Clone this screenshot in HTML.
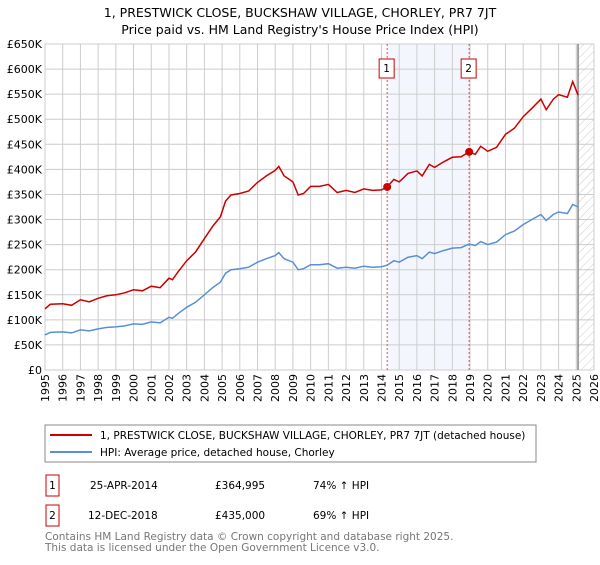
<!DOCTYPE html>
<html><head><meta charset="utf-8"><style>
body{margin:0;background:#fff;font-family:"Liberation Sans","DejaVu Sans",sans-serif;}
svg text{font-family:"DejaVu Sans","Liberation Sans",sans-serif;}
</style></head><body>
<svg id="chart" width="600" height="560" viewBox="0 0 600 560" xmlns="http://www.w3.org/2000/svg">
<defs><pattern id="hatch" width="6" height="6" patternUnits="userSpaceOnUse" patternTransform="rotate(45)"><line x1="0" y1="0" x2="0" y2="6" stroke="#ccc" stroke-width="1"/></pattern></defs>
<text x="300" y="17" font-size="12.5" text-anchor="middle">1, PRESTWICK CLOSE, BUCKSHAW VILLAGE, CHORLEY, PR7 7JT</text>
<text x="300" y="34" font-size="12.5" text-anchor="middle">Price paid vs. HM Land Registry's House Price Index (HPI)</text>
<g id="grid"></g><g id="marks"></g><g id="axes"></g>
<rect x="45" y="425" width="491" height="37" fill="#fff" stroke="#888"/>
<line x1="50" y1="435" x2="92" y2="435" stroke="#cc0000" stroke-width="2"/>
<text x="100" y="439" font-size="10.5">1, PRESTWICK CLOSE, BUCKSHAW VILLAGE, CHORLEY, PR7 7JT (detached house)</text>
<line x1="50" y1="452" x2="92" y2="452" stroke="#5b8fd4" stroke-width="2"/>
<text x="100" y="456" font-size="10.5">HPI: Average price, detached house, Chorley</text>
<g font-size="10.5">
<rect x="46" y="475" width="13" height="21" fill="none" stroke="#cc0000"/><text x="52.5" y="489" text-anchor="middle">1</text>
<text x="90" y="489">25-APR-2014</text><text x="215" y="489">£364,995</text><text x="313" y="489">74% ↑ HPI</text></g>
<g font-size="10.5">
<rect x="46" y="505" width="13" height="21" fill="none" stroke="#cc0000"/><text x="52.5" y="519" text-anchor="middle">2</text>
<text x="88" y="519">12-DEC-2018</text><text x="215" y="519">£435,000</text><text x="313" y="519">69% ↑ HPI</text></g>
<text x="45" y="540" font-size="10.5" fill="#777">Contains HM Land Registry data © Crown copyright and database right 2025.</text>
<text x="45" y="551" font-size="10.5" fill="#777">This data is licensed under the Open Government Licence v3.0.</text>
</svg>
<script>
const hpiYears=[1995,1995.3,1996,1996.5,1997,1997.5,1998,1998.5,1999,1999.5,2000,2000.5,2001,2001.5,2002,2002.2,2002.5,2003,2003.5,2004,2004.5,2004.9,2005.2,2005.5,2006,2006.5,2007,2007.5,2008,2008.2,2008.5,2009,2009.3,2009.6,2010,2010.5,2011,2011.5,2012,2012.5,2013,2013.5,2014,2014.32,2014.7,2015,2015.5,2016,2016.3,2016.7,2017,2017.5,2018,2018.5,2018.95,2019.3,2019.6,2020,2020.5,2021,2021.5,2022,2022.5,2023,2023.3,2023.7,2024,2024.5,2024.8,2025.1];
const hpiValues=[70,75,76,74,80,78,82,85,86,88,92,91,96,94,105,103,112,125,135,150,165,175,193,200,202,205,215,222,228,234,222,215,200,202,210,210,212,203,205,203,207,205,206,209,218,215,225,228,222,235,232,238,243,244,251,248,256,250,255,270,277,290,300,310,298,310,315,312,330,325];
const priceValues=[122,131,132,129,140,136,143,148,150,154,160,158,167,164,183,180,195,218,235,262,288,305,337,349,352,357,374,387,398,406,387,375,349,352,366,366,370,354,358,354,361,358,359,365,380,375,392,397,387,410,404,415,424,425,435,430,446,436,444,470,482,505,522,540,519,540,549,544,575,548];
const yTicks=[0,50,100,150,200,250,300,350,400,450,500,550,600,650];
const yTickLabels=["£0","£50K","£100K","£150K","£200K","£250K","£300K","£350K","£400K","£450K","£500K","£550K","£600K","£650K"];
const xTicks=[1995,1996,1997,1998,1999,2000,2001,2002,2003,2004,2005,2006,2007,2008,2009,2010,2011,2012,2013,2014,2015,2016,2017,2018,2019,2020,2021,2022,2023,2024,2025,2026];
const sales=[{label:"1",year:2014.32,value:364.995},{label:"2",year:2018.95,value:435}];
const dataEnd=2025.1;
const L=45,R=594,T=44,B=370;
const x=v=>L+(v-1995)/(2026-1995)*(R-L);
const y=v=>B-v/650*(B-T);
const NS="http://www.w3.org/2000/svg";
function mk(p,tag,attrs,txt){const e=document.createElementNS(NS,tag);for(const k in attrs)e.setAttribute(k,attrs[k]);if(txt!==undefined)e.textContent=txt;p.appendChild(e);return e;}
const grid=document.getElementById('grid'),marks=document.getElementById('marks'),axes=document.getElementById('axes');
let sh=mk(grid,'rect',{x:x(sales[0].year),y:T,width:x(sales[1].year)-x(sales[0].year),height:B-T,fill:'#eef3fc',opacity:0.7});


let ht=mk(grid,'rect',{x:x(dataEnd),y:T,width:R-x(dataEnd),height:B-T,fill:'url(#hatch)'});


yTicks.forEach((t,i)=>{mk(grid,'line',{x1:L,x2:R,y1:y(t),y2:y(t),stroke:'#ccc'});
const lb=mk(axes,'text',{x:L-3,y:y(t)+4,'font-size':11,'text-anchor':'end'},yTickLabels[i]);

});
xTicks.forEach(t=>{mk(grid,'line',{x1:x(t),x2:x(t),y1:T,y2:B,stroke:'#ccc'});
const lb=mk(axes,'text',{transform:`translate(${x(t)+4},${B+4}) rotate(-90)`,'font-size':11,'text-anchor':'end'},String(t));

});
mk(grid,'rect',{x:L,y:T,width:R-L,height:B-T,fill:'none',stroke:'#ccc'});
let el=mk(grid,'line',{x1:x(dataEnd),x2:x(dataEnd),y1:T,y2:B,stroke:'#888','stroke-width':1.5});


sales.forEach(s=>{const v=mk(marks,'line',{x1:x(s.year),x2:x(s.year),y1:T,y2:B,stroke:'#e05050','stroke-dasharray':'2,2'});


const bx=mk(marks,'rect',{x:x(s.year)-8,y:59,width:15,height:19,fill:'#fff',stroke:'#cc0000'});


mk(marks,'text',{x:x(s.year)-0.5,y:72,'font-size':10.5,'text-anchor':'middle'},s.label);});
const pts=a=>hpiYears.map((yr,i)=>x(yr).toFixed(1)+','+y(a[i]).toFixed(1)).join(' ');
let hl=mk(marks,'polyline',{points:pts(hpiValues),fill:'none',stroke:'#5b8fd4','stroke-width':1.5});


let pl=mk(marks,'polyline',{points:pts(priceValues),fill:'none',stroke:'#cc0000','stroke-width':1.5});


sales.forEach(s=>{const c=mk(marks,'circle',{cx:x(s.year),cy:y(s.value),r:4,fill:'#cc0000'});

});
</script>
</body></html>
